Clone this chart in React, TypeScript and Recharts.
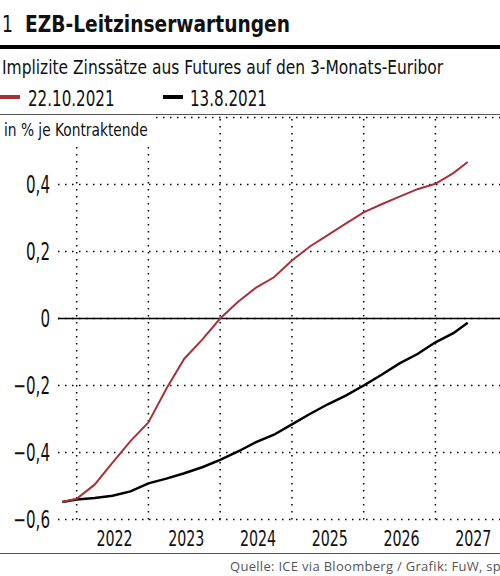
import React from 'react';
import { LineChart, Line, XAxis, YAxis, CartesianGrid, ReferenceLine } from 'recharts';

// contract end (decimal year)
const contractEnds = [
  2021.8, 2022, 2022.25, 2022.5, 2022.75, 2023, 2023.25, 2023.5, 2023.75, 2024, 2024.25, 2024.5,
  2024.75, 2025, 2025.25, 2025.5, 2025.75, 2026, 2026.25, 2026.5, 2026.75, 2027, 2027.25, 2027.45,
];

// implied rates, in %
const rates22Oct = [
  -0.548, -0.538, -0.496, -0.43, -0.366, -0.31, -0.21, -0.12, -0.063, 0.0, 0.05, 0.092,
  0.123, 0.173, 0.215, 0.249, 0.283, 0.317, 0.341, 0.364, 0.386, 0.402, 0.434, 0.467,
];
const rates13Aug = [
  -0.548, -0.54, -0.536, -0.529, -0.516, -0.492, -0.478, -0.462, -0.444, -0.422, -0.397, -0.369,
  -0.347, -0.316, -0.285, -0.256, -0.23, -0.2, -0.168, -0.134, -0.106, -0.071, -0.044, -0.013,
];

const yearStarts = [2022, 2023, 2024, 2025, 2026, 2027];
const yearLabelTicks = [2022.5, 2023.5, 2024.5, 2025.5, 2026.5, 2027.5];
const yTicks = [-0.6, -0.4, -0.2, 0, 0.2, 0.4];

const RED = '#a8323a';
const NARROW = '"DejaVu Sans Condensed", "Liberation Sans Narrow", "DejaVu Sans", sans-serif';

const chartData = contractEnds.map((t, i) => ({
  t,
  oct: rates22Oct[i],
  aug: rates13Aug[i],
}));

const fmtY = (v: number) => {
  if (v === 0) return '0';
  const s = Math.abs(v).toFixed(1).replace('.', ',');
  return v < 0 ? '\u2212' + s : s;
};

// squeezed text, to get near the condensed face of the original
function Squeeze({ k, children }: { k: number; children: React.ReactNode }) {
  return (
    <span style={{ display: 'inline-block', transform: `scaleX(${k})`, transformOrigin: 'left center', whiteSpace: 'nowrap' }}>
      {children}
    </span>
  );
}

const YTick = (props: any) => {
  const { x, y, payload } = props;
  return (
    <text
      transform={`translate(${x},${y}) scale(0.7,1)`}
      textAnchor="end"
      dominantBaseline="central"
      fill="#111"
      fontSize={24}
      fontFamily={NARROW}
    >
      {fmtY(payload.value)}
    </text>
  );
};

const XTick = (props: any) => {
  const { x, y, payload } = props;
  return (
    <text
      transform={`translate(${x + 2},${y + 11}) scale(0.72,1)`}
      textAnchor="middle"
      dominantBaseline="central"
      fill="#111"
      fontSize={22}
      fontFamily={NARROW}
    >
      {String(Math.floor(payload.value))}
    </text>
  );
};

export default function App() {
  return (
    <div
      style={{
        position: 'absolute',
        left: 0,
        top: 0,
        width: 500,
        height: 576,
        overflow: 'hidden',
        background: '#fff',
        fontFamily: NARROW,
        color: '#111',
      }}
    >
      <div style={{ position: 'absolute', left: 2, top: 11, fontSize: 22.5, lineHeight: '26px', whiteSpace: 'nowrap' }}>
        <Squeeze k={0.85}>1</Squeeze>
        <span style={{ position: 'absolute', left: 23, top: 0, fontWeight: 700 }}>
          <Squeeze k={0.92}>EZB-Leitzinserwartungen</Squeeze>
        </span>
      </div>
      <div style={{ position: 'absolute', left: 0, top: 45, width: 500, height: 3.5, background: '#000' }} />
      <div style={{ position: 'absolute', left: 2, top: 54, fontSize: 20, lineHeight: '26px' }}>
        <Squeeze k={0.86}>Implizite Zinssätze aus Futures auf den 3-Monats-Euribor</Squeeze>
      </div>

      {/* legend */}
      <div style={{ position: 'absolute', left: 0, top: 95, width: 20, height: 4, background: RED }} />
      <div style={{ position: 'absolute', left: 28, top: 86, fontSize: 20.5, lineHeight: '26px' }}>
        <Squeeze k={0.82}>22.10.2021</Squeeze>
      </div>
      <div style={{ position: 'absolute', left: 163, top: 95, width: 20, height: 4, background: '#000' }} />
      <div style={{ position: 'absolute', left: 190, top: 86, fontSize: 20.5, lineHeight: '26px' }}>
        <Squeeze k={0.82}>13.8.2021</Squeeze>
      </div>
      <div style={{ position: 'absolute', left: 0, top: 114, width: 500, height: 1, background: '#555' }} />

      <div style={{ position: 'absolute', left: 0, top: 115 }}>
        <LineChart width={500} height={440} data={chartData} margin={{ top: 2.5, right: 0, bottom: 0, left: 0 }}>
          <CartesianGrid vertical={false} stroke="#000" strokeWidth={1.5} strokeDasharray="1.5 5.5" />
          {yearStarts.map((y) => (
            <ReferenceLine key={y} x={y} stroke="#000" strokeWidth={1.5} strokeDasharray="1.5 5.5" />
          ))}
          <ReferenceLine y={0} stroke="#000" strokeWidth={1.5} />
          <XAxis
            dataKey="t"
            type="number"
            domain={[2021.74, 2027.9]}
            allowDataOverflow
            ticks={yearLabelTicks}
            axisLine={false}
            tickLine={false}
            height={35.5}
            tick={XTick}
            interval={0}
          />
          <YAxis
            type="number"
            domain={[-0.6, 0.6]}
            ticks={yTicks}
            axisLine={false}
            tickLine={false}
            width={58}
            tick={YTick}
          />
          <Line dataKey="aug" stroke="#000" strokeWidth={2.5} dot={false} isAnimationActive={false} />
          <Line dataKey="oct" stroke={RED} strokeWidth={2} dot={false} isAnimationActive={false} />
        </LineChart>
      </div>

      <div
        style={{
          position: 'absolute',
          left: 0,
          top: 116,
          width: 154,
          height: 31,
          background: '#fff',
          fontSize: 17,
          lineHeight: '28px',
          paddingLeft: 4,
          boxSizing: 'border-box',
        }}
      >
        <Squeeze k={0.9}>in % je Kontraktende</Squeeze>
      </div>

      <div style={{ position: 'absolute', left: 0, top: 553, width: 500, height: 1, background: '#555' }} />
      <div
        style={{
          position: 'absolute',
          left: 230,
          top: 558,
          fontSize: 13,
          lineHeight: '16px',
          letterSpacing: 0.3,
          fontFamily: '"Open Sans", "DejaVu Sans", sans-serif',
          color: '#555',
          whiteSpace: 'nowrap',
        }}
      >
        Quelle: ICE via Bloomberg / Grafik: FuW, sp
      </div>
    </div>
  );
}
